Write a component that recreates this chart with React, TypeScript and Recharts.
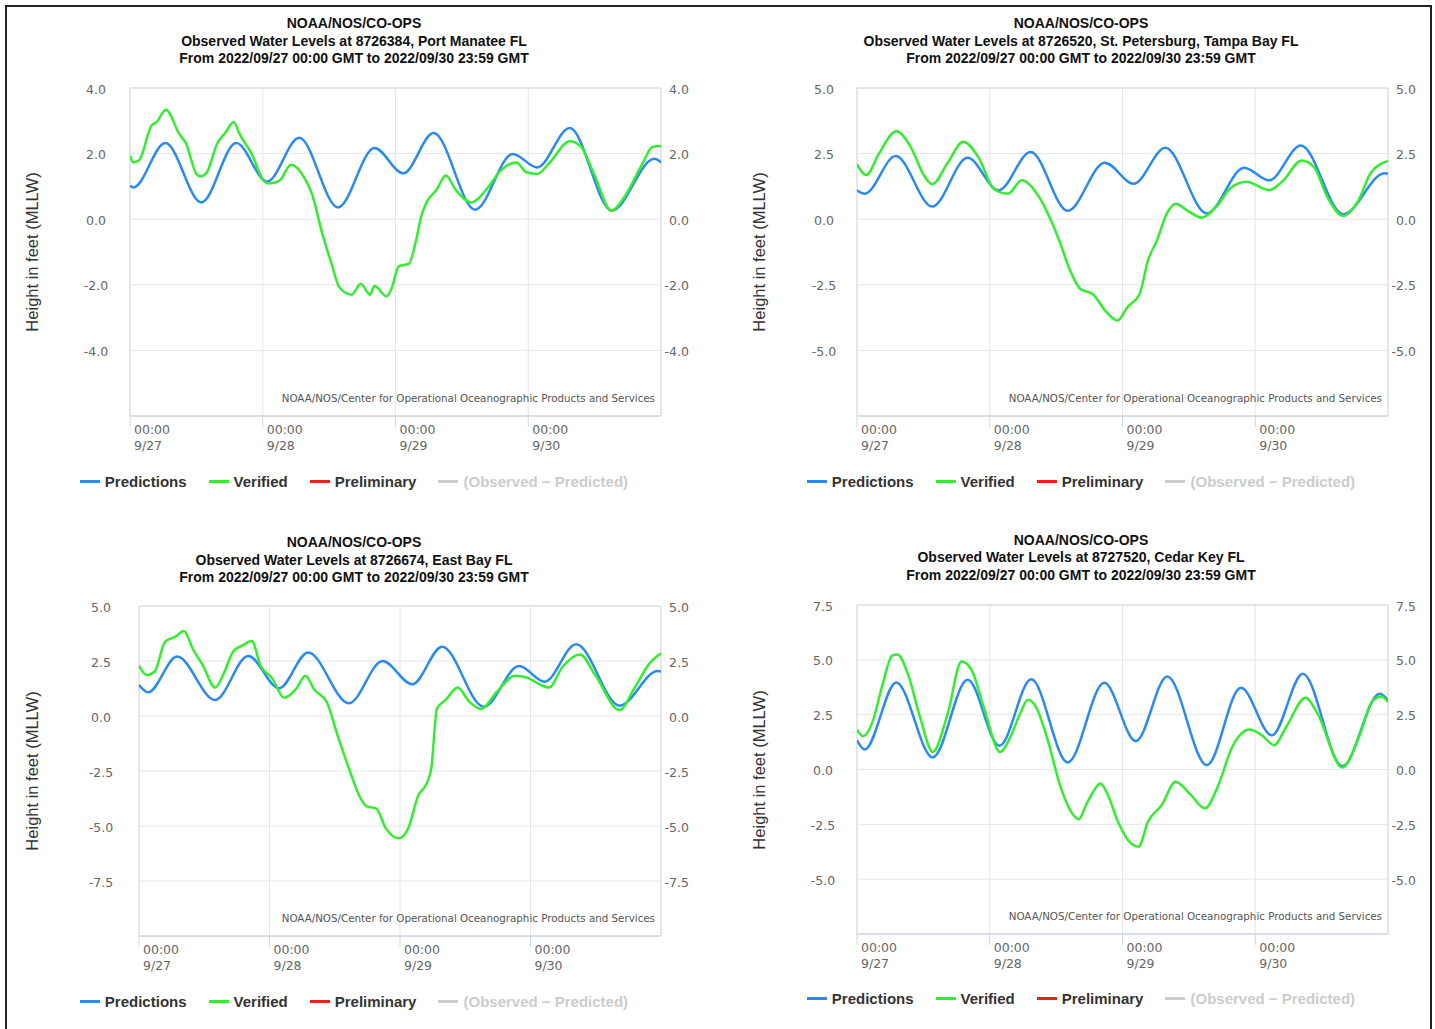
import React from 'react';
import { LineChart, Line, XAxis, YAxis, CartesianGrid, ReferenceArea } from 'recharts';

// hours since 2022/09/27 00:00 GMT -> height in feet (MLLW)
const hourTicks = [0, 24, 48, 72];
const dayLabels = ['9/27', '9/28', '9/29', '9/30'];

const portManateePredictions: [number, number][] = [
  [0, 1.02], [0.6, 0.97], [6.4, 2.32], [12.9, 0.51], [19.2, 2.32], [24.8, 1.15], [30.6, 2.48],
  [37.6, 0.36], [44.2, 2.17], [49.4, 1.4], [54.9, 2.63], [62.4, 0.29], [69.2, 1.99], [73.6, 1.58],
  [79.5, 2.78], [87.1, 0.26], [94.8, 1.84], [96, 1.73],
];
const portManateeVerified: [number, number][] = [
  [0, 1.94], [0.6, 1.73], [1.7, 1.81], [3.9, 2.86], [4.8, 2.96], [6.5, 3.34], [8.9, 2.6], [10.1, 2.32],
  [12, 1.38], [12.75, 1.3], [13.9, 1.43], [15.75, 2.3], [17.3, 2.65], [18.75, 2.96], [19.8, 2.6],
  [22, 1.99], [24.2, 1.17], [25.1, 1.09], [27, 1.17], [29.1, 1.66], [31.4, 1.3], [32.9, 0.77],
  [34.8, -0.46], [36.4, -1.33], [37.9, -2.09], [40.1, -2.3], [41.7, -1.97], [43.4, -2.3], [44.2, -2.04],
  [46.4, -2.35], [47.3, -2.11], [48.6, -1.43], [50.4, -1.36], [51.7, -0.66], [52.6, 0.05], [53.6, 0.51],
  [55.4, 0.89], [57.1, 1.33], [58.9, 0.89], [61.7, 0.51], [64.5, 0.92], [67, 1.48], [69.8, 1.73],
  [71.7, 1.43], [73.6, 1.38], [75.75, 1.7], [79.5, 2.38], [81.4, 2.24], [83.9, 1.38], [87, 0.26],
  [89.5, 0.71], [92.6, 1.68], [94.5, 2.21], [96, 2.23],
];

const stPetePredictions: [number, number][] = [
  [0, 1.1], [1.4, 0.97], [7, 2.41], [13.6, 0.48], [20, 2.34], [25.6, 1.1], [31.4, 2.56], [38.1, 0.32],
  [44.8, 2.15], [50, 1.35], [55.75, 2.72], [63.25, 0.22], [70, 1.96], [74.5, 1.48], [80.25, 2.81],
  [87.9, 0.19], [95.4, 1.75], [96, 1.73],
];
const stPeteVerified: [number, number][] = [
  [0, 2.09], [1.7, 1.68], [3.9, 2.47], [7.1, 3.35], [9.8, 2.72], [12, 1.71], [13.6, 1.33], [16.4, 2.15],
  [19.2, 2.95], [22, 2.34], [24.8, 1.14], [27.3, 0.97], [29.8, 1.48], [32.6, 0.95], [35.1, -0.06],
  [36.7, -0.89], [38.25, -1.81], [40.4, -2.66], [42.6, -2.85], [45.1, -3.54], [47.1, -3.86], [48.9, -3.35],
  [51.1, -2.85], [52.6, -1.58], [54.2, -0.82], [56.1, 0.25], [57.6, 0.59], [59.8, 0.32], [62.3, 0.06],
  [65.1, 0.51], [67.6, 1.2], [70.4, 1.43], [74.5, 1.11], [77, 1.46], [80.4, 2.24], [82.6, 1.99],
  [85.1, 0.82], [87.9, 0.13], [90.75, 0.76], [92.9, 1.77], [96, 2.22],
];

const eastBayPredictions: [number, number][] = [
  [0, 1.41], [1.7, 1.08], [7, 2.7], [14, 0.73], [20.1, 2.73], [25.75, 1.26], [31.1, 2.89], [38.6, 0.58],
  [44.8, 2.5], [50.25, 1.44], [55.75, 3.15], [63.4, 0.42], [69.9, 2.27], [74.6, 1.56], [80.4, 3.26],
  [88.4, 0.47], [95.4, 2.05], [96, 2.02],
];
const eastBayVerified: [number, number][] = [
  [0, 2.29], [1.4, 1.86], [2.9, 2.02], [4.8, 3.38], [6.7, 3.61], [8.25, 3.86], [10, 3.0], [11.7, 2.32],
  [14, 1.29], [15.6, 1.94], [17.3, 2.92], [19.2, 3.23], [20.75, 3.41], [22.3, 2.32], [24.5, 1.71],
  [26.7, 0.83], [28.9, 1.23], [30.6, 1.83], [32.3, 1.18], [34.5, 0.65], [36.7, -1.02], [38.6, -2.38],
  [40.75, -3.74], [42, -4.12], [43.6, -4.2], [45.4, -5.11], [47.75, -5.56], [49.5, -5.11], [51.4, -3.59],
  [52.75, -3.14], [53.75, -2.38], [54.8, 0.35], [56.4, 0.73], [58.6, 1.29], [60.75, 0.65], [62.9, 0.32],
  [65.75, 1.08], [69.2, 1.83], [71.4, 1.74], [73.9, 1.41], [75.4, 1.29], [77.9, 2.24], [81.1, 2.8],
  [83.9, 1.86], [88.4, 0.27], [91.1, 1.26], [93.9, 2.39], [96, 2.85],
];

const cedarKeyPredictions: [number, number][] = [
  [0, 1.33], [1.4, 0.91], [7.1, 3.97], [13.7, 0.55], [20, 4.09], [25.75, 1.08], [31.5, 4.11], [38.1, 0.32],
  [44.7, 3.95], [50.4, 1.3], [56.1, 4.24], [63.25, 0.2], [69.4, 3.73], [75, 1.56], [80.6, 4.36],
  [87.75, 0.15], [94.5, 3.45], [96, 3.15],
];
const cedarKeyVerified: [number, number][] = [
  [0, 1.82], [1.1, 1.52], [2.9, 2.24], [4.5, 3.76], [6.4, 5.2], [7.3, 5.24], [9.2, 4.36], [11.4, 2.39],
  [13.7, 0.8], [16.4, 2.55], [18.9, 4.92], [20.75, 4.52], [22.9, 2.85], [25.9, 0.8], [27.6, 1.41],
  [29.5, 2.55], [30.9, 3.18], [32.3, 2.88], [34.5, 1.33], [36.7, -0.71], [38.9, -2.0], [40.1, -2.27],
  [41.4, -1.62], [42.6, -1.06], [44, -0.64], [45.1, -1.02], [47.3, -2.45], [49.5, -3.36], [50.9, -3.52],
  [52.6, -2.38], [55.1, -1.62], [57.6, -0.56], [60.1, -1.09], [62.9, -1.77], [65.1, -0.86], [67.9, 1.06],
  [71, 1.82], [73.2, 1.56], [75.4, 1.11], [77.6, 1.94], [81.1, 3.27], [83.25, 2.55], [87.75, 0.09],
  [90.75, 1.48], [93.25, 3.15], [94.8, 3.33], [96, 3.08],
];

const stationTitles = [
  'Observed Water Levels at 8726384, Port Manatee FL',
  'Observed Water Levels at 8726520, St. Petersburg, Tampa Bay FL',
  'Observed Water Levels at 8726674, East Bay FL',
  'Observed Water Levels at 8727520, Cedar Key FL',
];
const legendNames = ['Predictions', 'Verified', 'Preliminary', '(Observed \u2212 Predicted)'];

const colors = {
  predictions: '#2b8af2',
  verified: '#33ee2e',
  preliminary: '#ff1a1a',
  difference: '#cccccc',
  grid: '#e4e6ec',
  axis: '#ccd6eb',
  label: '#666666',
};

const tickFont = '"DejaVu Sans", sans-serif';
const boldFont = '"Liberation Sans", Arial, sans-serif';

const toPoints = (rows: [number, number][]) => rows.map(([h, v]) => ({ h, v }));

interface PanelProps {
  left: number;
  top: number;
  plotX: number;
  plotY: number;
  plotW: number;
  plotH: number;
  leftLabelX: number;
  titleY: number[];
  legendY: number;
  title: string;
  yDomain: [number, number];
  yTicks: number[];
  predictions: [number, number][];
  verified: [number, number][];
}

const CHART_W = 700;

function Panel(p: PanelProps) {
  const chartH = p.plotY + p.plotH + 50;
  const plotBottom = p.plotY + p.plotH;
  const rightLabelX = p.plotX + p.plotW + 28;
  const titles = ['NOAA/NOS/CO-OPS', p.title, 'From 2022/09/27 00:00 GMT to 2022/09/30 23:59 GMT'];
  const legendColors = [colors.predictions, colors.verified, colors.preliminary, colors.difference];

  return (
    <div style={{ position: 'absolute', left: p.left, top: p.top, width: CHART_W, height: 520 }}>
      {titles.map((t, i) => (
        <div
          key={t}
          style={{
            position: 'absolute',
            left: 0,
            width: 692,
            top: p.titleY[i] - 9,
            height: 18,
            lineHeight: '18px',
            textAlign: 'center',
            fontFamily: boldFont,
            fontWeight: 'bold',
            fontSize: 14,
            color: '#111',
            whiteSpace: 'nowrap',
          }}
        >
          {t}
        </div>
      ))}

      <div
        style={{
          position: 'absolute',
          left: 24,
          top: p.plotY + p.plotH / 2,
          transform: 'translate(-50%, -50%) rotate(-90deg)',
          fontFamily: boldFont,
          fontSize: 16.5,
          color: '#333',
          whiteSpace: 'nowrap',
        }}
      >
        Height in feet (MLLW)
      </div>

      <div style={{ position: 'absolute', left: 0, top: 0 }}>
        <LineChart
          width={CHART_W}
          height={chartH}
          margin={{ top: p.plotY, left: p.plotX - 40, right: CHART_W - p.plotX - p.plotW - 30, bottom: chartH - plotBottom - 40 }}
        >
          <CartesianGrid yAxisId="left" stroke={colors.grid} strokeWidth={1} />
          <ReferenceArea
            yAxisId="left"
            x1={0}
            x2={96}
            y1={p.yDomain[0]}
            y2={p.yDomain[1]}
            fill="none"
            stroke="#d9d9d9"
            strokeWidth={1}
            ifOverflow="visible"
          />
          <XAxis
            dataKey="h"
            type="number"
            domain={[0, 96]}
            ticks={hourTicks}
            allowDataOverflow
            height={40}
            tickSize={11}
            axisLine={{ stroke: colors.axis }}
            tickLine={{ stroke: colors.axis }}
            tick={(t: any) => (
              <text x={t.x + 4} y={plotBottom + 17.5} fill={colors.label} fontFamily={tickFont} fontSize={12.5}>
                <tspan x={t.x + 4}>00:00</tspan>
                <tspan x={t.x + 4} dy={16}>{dayLabels[hourTicks.indexOf(t.payload.value)]}</tspan>
              </text>
            )}
          />
          <YAxis
            yAxisId="left"
            type="number"
            domain={p.yDomain}
            ticks={p.yTicks}
            allowDataOverflow
            width={40}
            axisLine={false}
            tickLine={false}
            tick={(t: any) => (
              <text x={p.leftLabelX} y={t.y + 5.5} textAnchor="middle" fill={colors.label} fontFamily={tickFont} fontSize={12.5}>
                {Number(t.payload.value).toFixed(1)}
              </text>
            )}
          />
          <YAxis
            yAxisId="right"
            orientation="right"
            type="number"
            domain={p.yDomain}
            ticks={p.yTicks}
            allowDataOverflow
            width={30}
            axisLine={false}
            tickLine={false}
            tick={(t: any) => (
              <text x={rightLabelX} y={t.y + 5.5} textAnchor="end" fill={colors.label} fontFamily={tickFont} fontSize={12.5}>
                {Number(t.payload.value).toFixed(1)}
              </text>
            )}
          />
          <Line
            yAxisId="left"
            data={toPoints(p.predictions)}
            dataKey="v"
            type="monotone"
            stroke={colors.predictions}
            strokeWidth={2.5}
            dot={false}
            isAnimationActive={false}
          />
          <Line
            yAxisId="left"
            data={toPoints(p.verified)}
            dataKey="v"
            type="monotone"
            stroke={colors.verified}
            strokeWidth={2.5}
            dot={false}
            isAnimationActive={false}
          />
        </LineChart>
      </div>

      <div
        style={{
          position: 'absolute',
          left: p.plotX + p.plotW - 6 - 500,
          width: 500,
          top: plotBottom - 25,
          height: 14,
          lineHeight: '14px',
          textAlign: 'right',
          fontFamily: tickFont,
          fontSize: 10.3,
          color: '#555',
          whiteSpace: 'nowrap',
        }}
      >
        NOAA/NOS/Center for Operational Oceanographic Products and Services
      </div>

      <div
        style={{
          position: 'absolute',
          left: 0,
          width: 692,
          top: p.legendY - 10,
          height: 20,
          display: 'flex',
          justifyContent: 'center',
          alignItems: 'center',
        }}
      >
        {legendNames.map((name, i) => (
          <div key={name} style={{ display: 'flex', alignItems: 'center', marginRight: i < legendNames.length - 1 ? 22 : 0 }}>
            <div style={{ width: 20, height: 3, background: legendColors[i], marginRight: 5 }} />
            <span
              style={{
                fontFamily: boldFont,
                fontWeight: 'bold',
                fontSize: 15,
                color: i === 3 ? '#cccccc' : '#333',
                whiteSpace: 'nowrap',
              }}
            >
              {name}
            </span>
          </div>
        ))}
      </div>
    </div>
  );
}

export default function App() {
  return (
    <div style={{ position: 'absolute', left: 0, top: 0, width: 1435, height: 1029, background: '#fff', overflow: 'hidden' }}>
      <Panel
        left={8}
        top={0}
        plotX={122}
        plotY={88}
        plotW={531}
        plotH={328}
        leftLabelX={88}
        titleY={[23, 41, 58]}
        legendY={481}
        title={stationTitles[0]}
        yDomain={[-6, 4]}
        yTicks={[-4, -2, 0, 2, 4]}
        predictions={portManateePredictions}
        verified={portManateeVerified}
      />
      <Panel
        left={735}
        top={0}
        plotX={122}
        plotY={88}
        plotW={531}
        plotH={328}
        leftLabelX={89}
        titleY={[23, 41, 58]}
        legendY={481}
        title={stationTitles[1]}
        yDomain={[-7.5, 5]}
        yTicks={[-5, -2.5, 0, 2.5, 5]}
        predictions={stPetePredictions}
        verified={stPeteVerified}
      />
      <Panel
        left={8}
        top={500}
        plotX={131}
        plotY={106}
        plotW={522}
        plotH={330}
        leftLabelX={93}
        titleY={[42, 60, 77]}
        legendY={501}
        title={stationTitles[2]}
        yDomain={[-10, 5]}
        yTicks={[-7.5, -5, -2.5, 0, 2.5, 5]}
        predictions={eastBayPredictions}
        verified={eastBayVerified}
      />
      <Panel
        left={735}
        top={500}
        plotX={122}
        plotY={105}
        plotW={531}
        plotH={329}
        leftLabelX={88}
        titleY={[40, 57, 75]}
        legendY={498}
        title={stationTitles[3]}
        yDomain={[-7.5, 7.5]}
        yTicks={[-5, -2.5, 0, 2.5, 5, 7.5]}
        predictions={cedarKeyPredictions}
        verified={cedarKeyVerified}
      />
      <div
        style={{
          position: 'absolute',
          left: 5,
          top: 5,
          width: 1427,
          height: 1040,
          boxSizing: 'border-box',
          borderTop: '2px solid #222',
          borderLeft: '2px solid #222',
          borderRight: '2px solid #222',
          pointerEvents: 'none',
        }}
      />
    </div>
  );
}
